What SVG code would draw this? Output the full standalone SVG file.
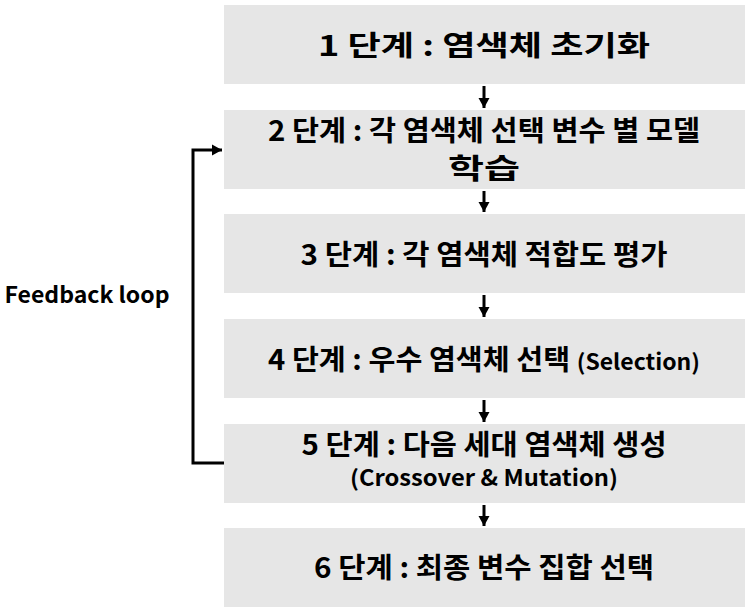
<svg xmlns="http://www.w3.org/2000/svg" width="753" height="611" viewBox="0 0 753 611">
<style>
.box{fill:#e6e6e6}
.t{font-family:"Noto Sans CJK KR","Noto Sans",sans-serif;font-weight:bold;font-size:28px;fill:#000;text-anchor:middle}
.s{font-size:22px}
.c{stroke:#000;stroke-width:3;fill:none}
</style>
<defs>
<marker id="ah" markerWidth="12" markerHeight="12" refX="10" refY="6" orient="auto" markerUnits="userSpaceOnUse">
<path d="M0,0.5 L10,6 L0,11.5 Z" fill="#000"/>
</marker>
</defs>
<rect width="753" height="611" fill="#fff"/>
<g id="node1"><rect class="box" x="224" y="5" width="521" height="79"/><text class="t" x="484" y="56" textLength="332" lengthAdjust="spacingAndGlyphs">1 단계 : 염색체 초기화</text></g>
<g id="node2"><rect class="box" x="224" y="110" width="521" height="79"/><text class="t" x="484" y="141" textLength="432" lengthAdjust="spacingAndGlyphs">2 단계 : 각 염색체 선택 변수 별 모델</text><text class="t" x="484" y="179" textLength="72" lengthAdjust="spacingAndGlyphs">학습</text></g>
<g id="node3"><rect class="box" x="224" y="214" width="521" height="79"/><text class="t" x="484" y="265" textLength="367" lengthAdjust="spacingAndGlyphs">3 단계 : 각 염색체 적합도 평가</text></g>
<g id="node4"><rect class="box" x="224" y="319" width="521" height="79"/><text class="t" x="484" y="370" textLength="432" lengthAdjust="spacingAndGlyphs">4 단계 : 우수 염색체 선택 <tspan class="s">(Selection)</tspan></text></g>
<g id="node5"><rect class="box" x="224" y="424" width="521" height="79"/><text class="t" x="484" y="455" textLength="365" lengthAdjust="spacingAndGlyphs">5 단계 : 다음 세대 염색체 생성</text><text class="t s" x="484" y="486" textLength="268" lengthAdjust="spacingAndGlyphs">(Crossover &amp; Mutation)</text></g>
<g id="node6"><rect class="box" x="224" y="528" width="521" height="79"/><text class="t" x="484" y="578" textLength="340" lengthAdjust="spacingAndGlyphs">6 단계 : 최종 변수 집합 선택</text></g>
<g id="label"><text class="t" x="87" y="303" style="font-size:22px" textLength="165" lengthAdjust="spacingAndGlyphs">Feedback loop</text></g>
<g id="connectors">
<line class="c" x1="484" y1="86" x2="484" y2="108" marker-end="url(#ah)"/>
<line class="c" x1="484" y1="191" x2="484" y2="212" marker-end="url(#ah)"/>
<line class="c" x1="484" y1="295" x2="484" y2="317" marker-end="url(#ah)"/>
<line class="c" x1="484" y1="400" x2="484" y2="422" marker-end="url(#ah)"/>
<line class="c" x1="484" y1="505" x2="484" y2="526" marker-end="url(#ah)"/>
<path class="c" d="M224,463 H193 V150 H222" marker-end="url(#ah)"/>
</g>
</svg>
